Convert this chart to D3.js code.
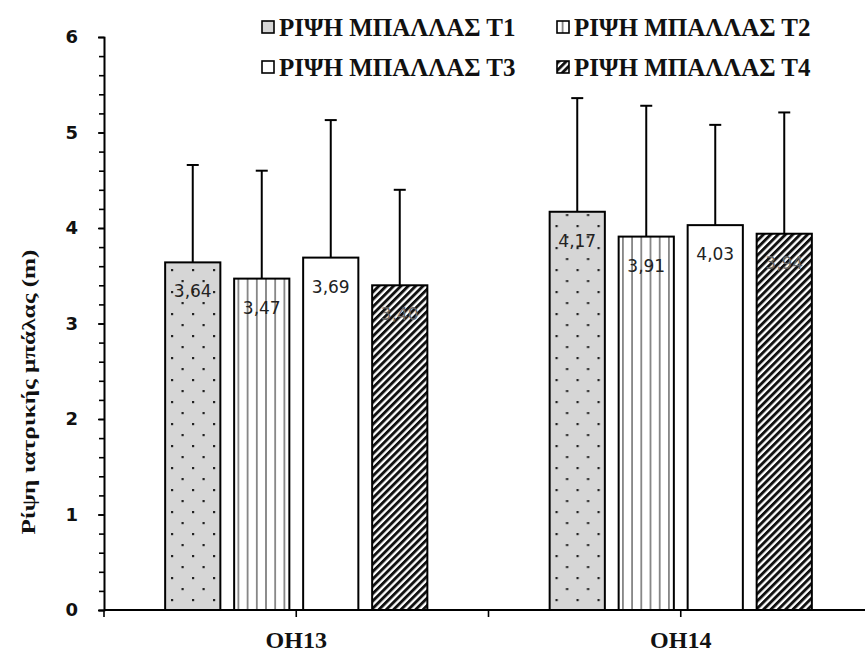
<!DOCTYPE html>
<html>
<head>
<meta charset="utf-8">
<script src="https://cdn.jsdelivr.net/npm/d3@7"></script>
<style>
  html, body { margin: 0; padding: 0; background: #fff; }
  svg { display: block; }
</style>
</head>
<body>
<svg id="chart" width="865" height="654"></svg>
<script>
// Medicine-ball throw (m), two groups, four trials
const categories = ["OH13", "OH14"];
const seriesNames = ["ΡΙΨΗ ΜΠΑΛΛΑΣ Τ1", "ΡΙΨΗ ΜΠΑΛΛΑΣ Τ2", "ΡΙΨΗ ΜΠΑΛΛΑΣ Τ3", "ΡΙΨΗ ΜΠΑΛΛΑΣ Τ4"];
const meansOH13 = [3.64, 3.47, 3.69, 3.40];
const meansOH14 = [4.17, 3.91, 4.03, 3.94];
const sdOH13 = [1.02, 1.13, 1.44, 1.00];
const sdOH14 = [1.19, 1.37, 1.05, 1.27];
const yTicks = [0, 1, 2, 3, 4, 5, 6];
const yLabel = "Ρίψη ιατρικής μπάλας (m)";

const means = [meansOH13, meansOH14];
const sds = [sdOH13, sdOH14];

const svg = d3.select("#chart");
const W = 865;
const plotLeft = 104, plotRight = 873, plotTop = 37, plotBottom = 610;

const x0 = d3.scaleBand().domain(categories).range([plotLeft, plotRight]).padding(0);
const groupWidth = 276;
const x1 = d3.scaleBand().domain(d3.range(4))
  .range([x0.bandwidth() / 2 - groupWidth / 2, x0.bandwidth() / 2 + groupWidth / 2])
  .paddingInner(0.2).paddingOuter(0.1);
const y = d3.scaleLinear().domain([0, 6]).range([plotBottom, plotTop]);

const serif = "'Liberation Serif', 'Times New Roman', serif";
const sans = "'DejaVu Sans', Verdana, sans-serif";

// fill patterns
const defs = svg.append("defs");
const pDots = defs.append("pattern").attr("id", "pat0").attr("patternUnits", "userSpaceOnUse")
  .attr("width", 21).attr("height", 22);
pDots.append("rect").attr("width", 21).attr("height", 22).attr("fill", "#d6d6d6");
pDots.append("rect").attr("x", 4).attr("y", 5).attr("width", 2.2).attr("height", 2.2).attr("fill", "#222");
pDots.append("rect").attr("x", 14.5).attr("y", 16).attr("width", 2.2).attr("height", 2.2).attr("fill", "#222");

const pV = defs.append("pattern").attr("id", "pat1").attr("patternUnits", "userSpaceOnUse")
  .attr("width", 9.2).attr("height", 10).attr("x", 1);
pV.append("rect").attr("width", 9.2).attr("height", 10).attr("fill", "#fff");
pV.append("line").attr("x1", 4.6).attr("x2", 4.6).attr("y1", 0).attr("y2", 10)
  .attr("stroke", "#555").attr("stroke-width", 1.3);

const pW = defs.append("pattern").attr("id", "pat2").attr("patternUnits", "userSpaceOnUse")
  .attr("width", 10).attr("height", 10);
pW.append("rect").attr("width", 10).attr("height", 10).attr("fill", "#fff");

const pH = defs.append("pattern").attr("id", "pat3").attr("patternUnits", "userSpaceOnUse")
  .attr("width", 5.2).attr("height", 5.2).attr("patternTransform", "rotate(45)");
pH.append("rect").attr("width", 5.2).attr("height", 5.2).attr("fill", "#fff");
pH.append("rect").attr("width", 2.9).attr("height", 5.2).attr("fill", "#111");

const fills = ["url(#pat0)", "url(#pat1)", "url(#pat2)", "url(#pat3)"];

// y axis: minor ticks every 0.2, labelled majors
const yMinor = d3.axisLeft(y).tickValues(d3.range(0, 30).map(i => i * 0.2)).tickSize(5).tickFormat("");
svg.append("g").attr("transform", `translate(${plotLeft},0)`).call(yMinor)
  .call(g => g.selectAll("line, path").attr("stroke", "#000").attr("stroke-width", 1.6));
const yMajor = d3.axisLeft(y).tickValues(yTicks).tickSize(6).tickPadding(20).tickFormat(d3.format("d"));
svg.append("g").attr("transform", `translate(${plotLeft},0)`).call(yMajor)
  .call(g => g.select(".domain").attr("stroke", "#000").attr("stroke-width", 1.6))
  .call(g => g.selectAll("line").attr("stroke", "#000").attr("stroke-width", 1.6))
  .call(g => g.selectAll("text").attr("fill", "#111")
    .style("font-family", sans).style("font-weight", "bold").style("font-size", "18px"));

// y label
svg.append("text")
  .attr("transform", `translate(35,392) rotate(-90)`)
  .attr("text-anchor", "middle")
  .attr("textLength", 285).attr("lengthAdjust", "spacingAndGlyphs")
  .style("font-family", serif)
  .style("font-weight", "bold").style("font-size", "18px")
  .attr("fill", "#111")
  .text(yLabel);

// bars
const groups = svg.append("g").selectAll("g").data(categories).join("g")
  .attr("transform", d => `translate(${x0(d)},0)`);

groups.each(function (cat, ci) {
  const g = d3.select(this);
  const rows = means[ci].map((v, i) => ({ i, v, sd: sds[ci][i] }));
  // error bars (upper only)
  g.selectAll("line.err").data(rows).join("line").attr("class", "err")
    .attr("x1", d => x1(d.i) + x1.bandwidth() / 2).attr("x2", d => x1(d.i) + x1.bandwidth() / 2)
    .attr("y1", d => y(d.v)).attr("y2", d => y(d.v + d.sd))
    .attr("stroke", "#000").attr("stroke-width", 2);
  g.selectAll("line.cap").data(rows).join("line").attr("class", "cap")
    .attr("x1", d => x1(d.i) + x1.bandwidth() / 2 - 6).attr("x2", d => x1(d.i) + x1.bandwidth() / 2 + 6)
    .attr("y1", d => y(d.v + d.sd)).attr("y2", d => y(d.v + d.sd))
    .attr("stroke", "#000").attr("stroke-width", 2);
  g.selectAll("rect.bar").data(rows).join("rect").attr("class", "bar")
    .attr("x", d => x1(d.i)).attr("width", x1.bandwidth())
    .attr("y", d => y(d.v)).attr("height", d => y(0) - y(d.v))
    .attr("fill", d => fills[d.i]).attr("stroke", "#000").attr("stroke-width", 2);
  g.selectAll("text.val").data(rows).join("text").attr("class", "val")
    .attr("x", d => x1(d.i) + x1.bandwidth() / 2).attr("y", d => y(d.v) + 35)
    .attr("text-anchor", "middle")
    .style("font-family", sans).style("font-size", "17px")
    .attr("fill", d => d.i === 3 ? "#666" : "#222")
    .text(d => d3.format(".2f")(d.v).replace(".", ","));
});

// x axis
const xAxis = svg.append("g").attr("transform", `translate(0,${plotBottom})`);
xAxis.append("line").attr("x1", plotLeft).attr("x2", W).attr("y1", 0).attr("y2", 0)
  .attr("stroke", "#000").attr("stroke-width", 2);
const tickPos = [x0(categories[0])]
  .concat(categories.map(c => x0(c) + x0.bandwidth() / 2))
  .concat([x0(categories[0]) + x0.bandwidth()]);
xAxis.selectAll("line.t").data(tickPos).join("line").attr("class", "t")
  .attr("x1", d => d).attr("x2", d => d).attr("y1", 0).attr("y2", 7)
  .attr("stroke", "#000").attr("stroke-width", 1.6);
xAxis.selectAll("text").data(categories).join("text")
  .attr("x", d => x0(d) + x0.bandwidth() / 2).attr("y", 38)
  .attr("text-anchor", "middle")
  .style("font-family", serif)
  .style("font-weight", "bold").style("font-size", "24px").attr("fill", "#111")
  .text(d => d);

// legend
const legendPos = [[262, 36], [557, 36], [262, 76], [557, 76]];
const legend = svg.append("g").selectAll("g").data(seriesNames).join("g")
  .attr("transform", (d, i) => `translate(${legendPos[i][0]},${legendPos[i][1]})`);
legend.append("rect").attr("x", 0).attr("y", -15).attr("width", 12).attr("height", 12)
  .attr("fill", (d, i) => fills[i]).attr("stroke", "#000").attr("stroke-width", 1.6);
legend.append("text").attr("x", 17).attr("y", 0)
  .style("font-family", serif)
  .style("font-weight", "bold").style("font-size", "25px").attr("fill", "#111")
  .text(d => d);
</script>
</body>
</html>
